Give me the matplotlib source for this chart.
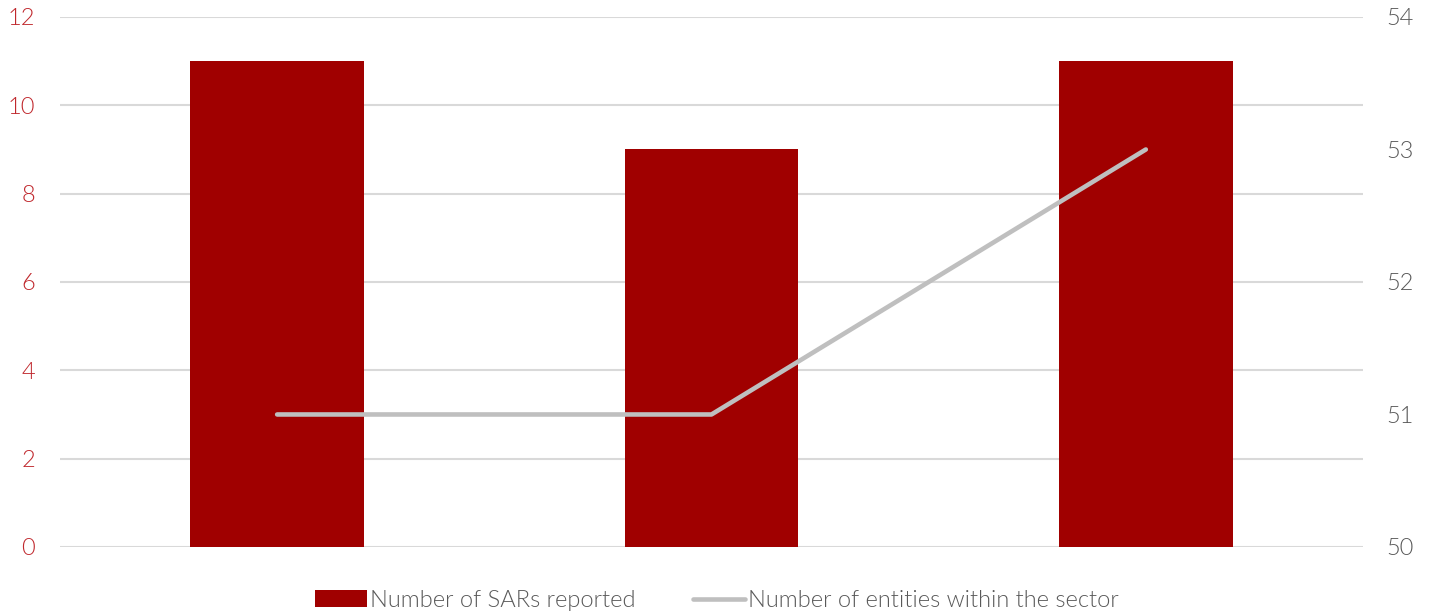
import matplotlib
matplotlib.use("Agg")
import matplotlib.pyplot as plt
import numpy as np

plt.rcParams['font.family'] = ['Lato', 'DejaVu Sans']

# data
categories = ["2019", "2020", "2021"]
sars_reported = [11, 9, 11]
entities = [51, 51, 53]
left_ticks = [0, 2, 4, 6, 8, 10, 12]
right_ticks = [50, 51, 52, 53, 54]

bar_color = "#a00000"
line_color = "#bfbfbf"
grid_color = "#d9d9d9"

fig = plt.figure(figsize=(14.34, 6.15), dpi=100)
ax = fig.add_axes([0.0418, 0.1106, 0.9087, 0.8618])
ax2 = ax.twinx()

x = np.arange(len(categories))
ax.bar(x, sars_reported, width=0.4, color=bar_color, zorder=3,
       label="Number of SARs reported")
ln, = ax2.plot(x, entities, color=line_color, linewidth=3.3, zorder=4,
               solid_capstyle='round', label="Number of entities within the sector")

ax.set_xlim(-0.5, len(categories) - 0.5)
ax.set_ylim(0, 12)
ax2.set_ylim(50, 54)
ax.set_yticks(left_ticks)
ax2.set_yticks(right_ticks)
ax.set_xticks([])

for t in left_ticks:
    ax.axhline(t, color=grid_color, linewidth=1.5, zorder=1)

for a in (ax, ax2):
    for s in a.spines.values():
        s.set_visible(False)
    a.tick_params(length=0)

ax.tick_params(axis='y', labelcolor="#c0282d", labelsize=17, pad=18)
ax2.tick_params(axis='y', labelcolor="#595959", labelsize=17, pad=17)
for lab in ax.get_yticklabels() + ax2.get_yticklabels():
    lab.set_fontweight(300)

h1, l1 = ax.get_legend_handles_labels()
h2, l2 = ax2.get_legend_handles_labels()
leg = fig.legend(h1 + h2, l1 + l2, loc='lower center', ncol=2,
                 bbox_to_anchor=(0.5, -0.028), frameon=False,
                 prop={'size': 17, 'weight': 300},
                 handlelength=2.2, handletextpad=0.15, columnspacing=2.4)
for t in leg.get_texts():
    t.set_color("#595959")

fig.savefig("out.png", dpi=100)
